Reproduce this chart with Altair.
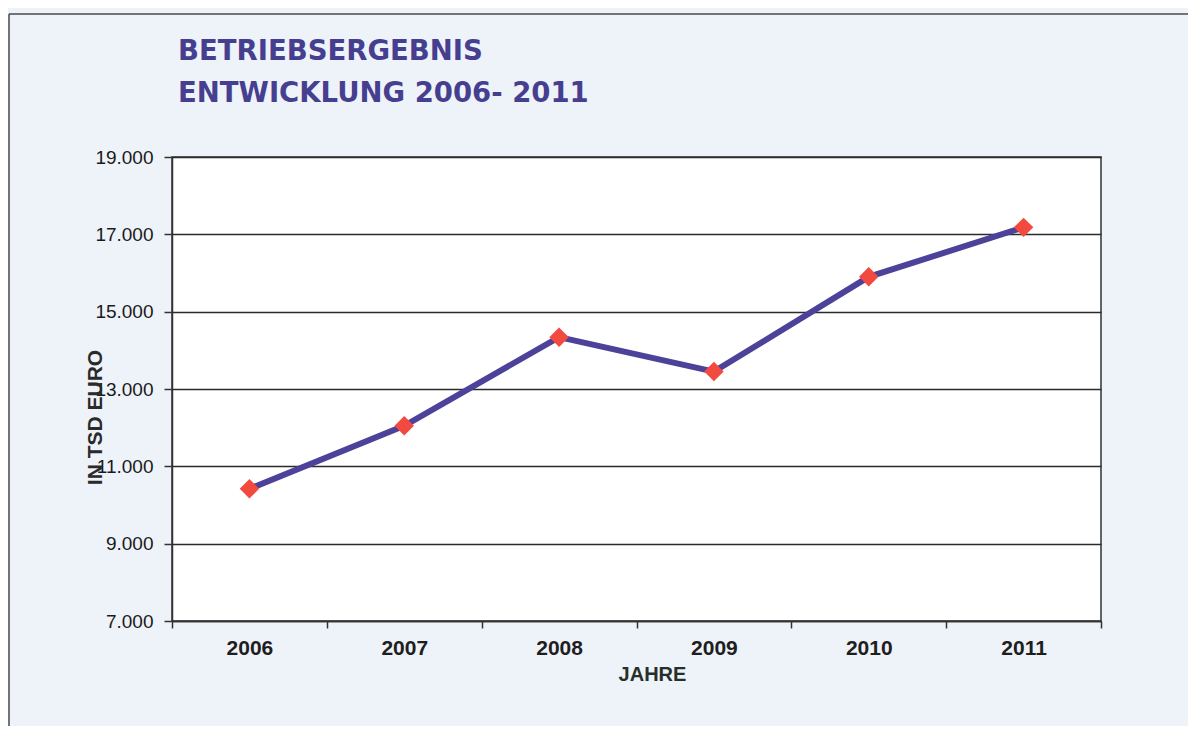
import altair as alt
import pandas as pd

years = ["2006", "2007", "2008", "2009", "2010", "2011"]
values = [10420, 12050, 14340, 13450, 15900, 17180]
y_ticks = [7000, 9000, 11000, 13000, 15000, 17000, 19000]

df = pd.DataFrame({"Jahr": years, "Wert": values})
one = pd.DataFrame({"a": [0]})

W, H = 929, 464

x_enc = alt.X(
    "Jahr:O",
    bandPosition=0.5,
    scale=alt.Scale(type="band", paddingInner=0, paddingOuter=0),
    axis=alt.Axis(
        title="JAHRE",
        labelAngle=0,
        tickBand="extent",
        tickSize=7,
        labelPadding=9,
        labelFont="Liberation Sans",
        labelFontWeight="bold",
        labelFontSize=21,
        labelColor="#1e1e1e",
        titleFont="Liberation Sans",
        titleFontWeight="bold",
        titleFontSize=20,
        titleColor="#26302a",
        titleX=480,
        titleY=53,
        titleAlign="center",
        titleBaseline="middle",
        domainColor="#333333",
        domainWidth=1.5,
        tickColor="#333333",
        tickWidth=1.5,
        grid=False,
    ),
)

y_enc = alt.Y(
    "Wert:Q",
    scale=alt.Scale(domain=[7000, 19000], nice=False, zero=False),
    axis=alt.Axis(
        title="IN TSD EURO",
        values=y_ticks,
        labelExpr="replace(format(datum.value, ',.0f'), ',', '.')",
        labelFont="Liberation Sans",
        labelFontSize=19,
        labelColor="#1a1a1a",
        labelPadding=11,
        tickSize=8,
        tickColor="#333333",
        tickWidth=1.5,
        domainColor="#333333",
        domainWidth=1.5,
        grid=True,
        gridColor="#2b2b2b",
        gridWidth=1.5,
        titleFont="Liberation Sans",
        titleFontWeight="bold",
        titleFontSize=21,
        titleColor="#2a2a2a",
        titleAngle=270,
        titleX=-77,
        titleY=260,
        titleAlign="center",
        titleBaseline="middle",
    ),
)

base = alt.Chart(df)
line = base.mark_line(color="#4c429a", strokeWidth=6).encode(x=x_enc, y=y_enc)
pts = base.mark_point(shape="diamond", filled=True, size=380, color="#f24a3e", opacity=1).encode(
    x=alt.X("Jahr:O", bandPosition=0.5), y="Wert:Q"
)

frame_left = alt.Chart(one).mark_rule(color="#4a4a4a", strokeWidth=1.5).encode(
    x=alt.value(-163), y=alt.value(-143), y2=alt.value(600)
)
frame_top = alt.Chart(one).mark_rule(color="#4a4a4a", strokeWidth=1.5).encode(
    x=alt.value(-163), x2=alt.value(1100), y=alt.value(-143)
)

chart = (
    alt.layer(frame_left, frame_top, line, pts)
    .properties(
        width=W,
        height=H,
        autosize=alt.AutoSizeParams(type="none"),
        padding={"left": 164, "top": 149, "right": 87, "bottom": 105},
        background="#eef2f9",
        title=alt.TitleParams(
            text=["BETRIEBSERGEBNIS", "ENTWICKLUNG 2006- 2011"],
            anchor="start",
            frame="group",
            font="DejaVu Sans",
            fontWeight="bold",
            fontSize=27.5,
            lineHeight=42,
            color="#463e8e",
            dx=6,
            offset=-94,
        ),
    )
    .configure_view(fill="white", stroke="#333333", strokeWidth=1.5)
)

chart.save("out.html", embed_options={"renderer": "svg", "actions": False})
